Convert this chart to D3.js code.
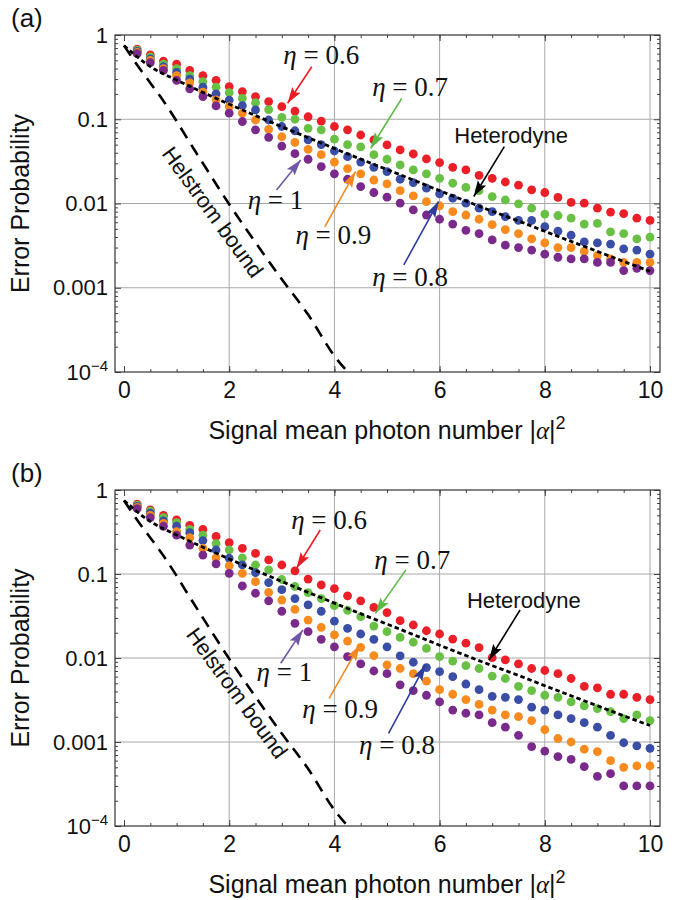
<!DOCTYPE html>
<html lang="en">
<head>
<meta charset="utf-8">
<script src="https://cdn.jsdelivr.net/npm/d3@7/dist/d3.min.js"></script>
<style>
  body { margin: 0; background: #fff; }
  svg text { font-family: Arial, "Liberation Sans", sans-serif; fill: #111; }
  .math { font-family: "Liberation Serif", "DejaVu Serif", serif; }
  .grid line { stroke: #a8a8a8; stroke-width: 1; }
  .tick line { stroke: #444; }
</style>
</head>
<body>
<svg id="chart" width="685" height="900"></svg>
<script>
// mean photon number of every simulated point
var photonN = [0.25, 0.5, 0.75, 1, 1.25, 1.5, 1.75, 2, 2.25, 2.5, 2.75, 3, 3.25, 3.5, 3.75, 4,
  4.25, 4.5, 4.75, 5, 5.25, 5.5, 5.75, 6, 6.25, 6.5, 6.75, 7, 7.25, 7.5, 7.75, 8, 8.25, 8.5,
  8.75, 9, 9.25, 9.5, 9.75, 10];
var etaNames = ["0.6", "0.7", "0.8", "0.9", "1"];

// panel (a)
var eta06a = [.68, .58, .49, .45, .38, .33, .29, .244, .213, .186, .162, .141, .125, .107, .095, .082, .075, .065, .057, .0496,
  .0432, .0387, .0338, .0306, .0269, .0250, .0216, .0199, .0180, .0165, .0145, .0135, .0118, .0103, .0101, .0088, .0079, .0076, .0067, .0063];
var eta07a = [.66, .55, .45, .40, .33, .28, .24, .207, .177, .157, .13, .105, .10, .078, .075, .058, .050, .047, .038, .0335,
  .0287, .0250, .0225, .0199, .0174, .0155, .0142, .0121, .0110, .0099, .0088, .0075, .0072, .0067, .0057, .0058, .0046, .0044, .0038, .0040];
var eta08a = [.64, .52, .42, .36, .30, .24, .20, .169, .145, .129, .098, .082, .073, .057, .050, .042, .036, .031, .0269, .0239,
  .0194, .0177, .0152, .0130, .0116, .0101, .0088, .0080, .0070, .0063, .0063, .0053, .0047, .0042, .0035, .0034, .0033, .0029, .0028, .0025];
var eta09a = [.62, .50, .40, .33, .27, .21, .17, .141, .118, .098, .076, .062, .053, .044, .038, .031, .026, .0225, .019, .0171,
  .0142, .0123, .0105, .0094, .0080, .0073, .0065, .0056, .0049, .0044, .0038, .0034, .0030, .0030, .0027, .0024, .0022, .0020, .0020, .0020];
var eta10a = [.60, .47, .38, .29, .23, .186, .144, .118, .094, .075, .061, .048, .039, .0335, .0274, .0225, .0194, .0159, .0135, .0119,
  .0101, .0084, .0073, .0065, .0057, .0048, .0044, .0037, .0032, .0030, .0028, .0025, .0023, .0022, .0022, .0020, .0020, .0016, .0017, .0016];

// panel (b)
var eta06b = [.68, .58, .50, .44, .38, .34, .28, .236, .202, .176, .147, .128, .109, .087, .074, .067, .055, .048, .040, .0347,
  .0278, .0247, .0211, .0193, .0168, .0150, .0133, .0101, .0095, .0085, .0075, .0071, .0065, .0057, .0046, .0044, .0037, .0037, .0034, .0032];
var eta07b = [.66, .56, .47, .41, .34, .29, .23, .193, .156, .128, .112, .086, .071, .060, .051, .042, .037, .031, .024, .0206,
  .0176, .0154, .0130, .0104, .0092, .0081, .0075, .0061, .0057, .0046, .0041, .0036, .0034, .0030, .0027, .0025, .0023, .0019, .0021, .0018];
var eta08b = [.64, .53, .43, .37, .31, .25, .193, .154, .128, .104, .079, .065, .051, .043, .036, .0275, .0225, .0193, .0167, .0136,
  .0106, .0089, .0077, .0069, .0060, .0049, .0042, .0035, .0034, .0032, .0026, .0024, .0021, .0019, .0017, .0015, .0012, .00098, .00090, .00084];
var eta09b = [.62, .50, .40, .32, .27, .202, .156, .125, .102, .081, .0605, .049, .038, .0283, .0232, .0188, .0159, .0134, .0107, .0083,
  .0075, .0065, .0053, .0042, .0037, .0032, .0028, .0024, .0021, .0020, .0018, .0014, .0011, .0010, .00082, .00077, .00060, .00050, .00052, .00052];
var eta10b = [.60, .47, .37, .29, .221, .168, .132, .102, .072, .059, .048, .036, .0259, .0206, .0167, .0136, .0104, .0085, .0070, .0065,
  .0048, .0041, .0036, .0030, .0024, .0022, .0021, .0017, .0015, .0012, .00088, .00078, .00067, .00062, .00051, .00039, .00042, .00030, .00030, .00030];

// bounds shared by both panels
var helstromN = [0, 0.25, 0.5, 0.75, 1, 1.25, 1.5, 2, 2.5, 3, 3.5, 4, 4.5];
var helstromP = [.75, .44, .27, .165, .095, .053, .0300, .0098, .00345, .00126, .00048, .000155, .00007];
var heteroN = [0, 0.5, 1, 1.5, 2, 2.5, 3, 3.5, 4, 4.5, 5, 5.5, 6, 6.5, 7, 7.5, 8, 8.5, 9, 9.5, 10];
var heteroP = [.75, .422, .292, .2085, .151, .1106, .0815, .0605, .045, .0336, .0253, .019, .0142, .0107, .0081, .0062,
  .00468, .00355, .0027, .00205, .00157];

var xMajor = [0, 2, 4, 6, 8, 10];
var yMajor = [1e-4, 1e-3, 1e-2, 1e-1, 1];
var yTickText = ["10", "0.001", "0.01", "0.1", "1"];

var dotColors = ["#ea1f27", "#68c045", "#3a4ea6", "#f78b1e", "#7a2a8a"];
var arrowColors = {"0.6": "#ec1c24", "0.7": "#5cbb45", "0.8": "#2e3d9b", "0.9": "#f5871f", "1": "#6f56a6", "het": "#000"};

// annotation placement in data units: text centre, arrow tail, arrow tip
var notesA = [
  {k: "0.6", tx: 3.75, ty: .58, x1: 3.57, y1: .42, x2: 3.11, y2: .155},
  {k: "0.7", tx: 5.44, ty: .244, x1: 5.28, y1: .177, x2: 4.69, y2: .0453},
  {k: "het", tx: 7.36, ty: .065, x1: 7.23, y1: .0473, x2: 6.65, y2: .0121},
  {k: "0.8", tx: 5.44, ty: .00136, x1: 5.32, y1: .00187, x2: 5.98, y2: .01054},
  {k: "0.9", tx: 3.98, ty: .00424, x1: 3.82, y1: .00532, x2: 4.40, y2: .0239},
  {k: "1", tx: 2.88, ty: .011, x1: 2.90, y1: .0145, x2: 3.36, y2: .0329}
];
var notesB = [
  {k: "0.6", tx: 3.90, ty: .44, x1: 3.73, y1: .334, x2: 3.28, y2: .117},
  {k: "0.7", tx: 5.48, ty: .147, x1: 5.36, y1: .112, x2: 4.78, y2: .034},
  {k: "het", tx: 7.60, ty: .049, x1: 7.53, y1: .0373, x2: 6.94, y2: .00946},
  {k: "1", tx: 3.05, ty: .00687, x1: 2.98, y1: .00865, x2: 3.40, y2: .0216},
  {k: "0.9", tx: 4.11, ty: .00252, x1: 3.90, y1: .00331, x2: 4.48, y2: .0143},
  {k: "0.8", tx: 5.19, ty: .00092, x1: 5.03, y1: .00127, x2: 5.73, y2: .00826}
];

var svg = d3.select("#chart");
var defs = svg.append("defs");
Object.keys(arrowColors).forEach(function(k) {
  defs.append("marker").attr("id", "head" + k.replace(".", ""))
    .attr("markerUnits", "userSpaceOnUse")
    .attr("markerWidth", 17).attr("markerHeight", 11)
    .attr("refX", 16).attr("refY", 5.5).attr("orient", "auto")
    .append("path").attr("d", "M0,0.5 L16,5.5 L0,10.5 L3,5.5 Z").attr("fill", arrowColors[k]);
});

var left = 115, right = 660;
var x = d3.scaleLinear().domain([0, 10]).range([124, 650]);

function drawPanel(cfg) {
  var y = d3.scaleLog().domain([1e-4, 1]).range([cfg.bottom, cfg.top]);
  var g = svg.append("g");
  var clipId = "clip" + cfg.tag.replace(/\W/g, "");
  defs.append("clipPath").attr("id", clipId).append("rect")
    .attr("x", left).attr("y", cfg.top).attr("width", right - left).attr("height", cfg.bottom - cfg.top);

  // grid
  var grid = g.append("g").attr("class", "grid");
  grid.selectAll("line.v").data([2, 4, 6, 8, 10]).enter().append("line")
    .attr("x1", function(d) { return x(d); }).attr("x2", function(d) { return x(d); })
    .attr("y1", cfg.top).attr("y2", cfg.bottom);
  grid.selectAll("line.h").data([1e-1, 1e-2, 1e-3]).enter().append("line")
    .attr("x1", left).attr("x2", right)
    .attr("y1", function(d) { return y(d); }).attr("y2", function(d) { return y(d); });

  // frame ticks (inward, like the original)
  var minorX = d3.range(0, 10.01, 0.5);
  var minorY = y.ticks().filter(function(d) { return yMajor.indexOf(d) < 0; });
  function tickSet(axisFn, scale, transform, vals, size, labels) {
    var a = axisFn(scale).tickValues(vals).tickSize(-size);
    if (!labels) a.tickFormat("");
    var sel = g.append("g").attr("transform", transform).call(a);
    sel.select(".domain").remove();
    return sel;
  }
  var xb = tickSet(d3.axisBottom, x, "translate(0," + cfg.bottom + ")", xMajor, 6, true);
  xb.selectAll(".tick text").attr("font-size", 23).attr("y", 10).attr("dy", "0.71em");
  tickSet(d3.axisBottom, x, "translate(0," + cfg.bottom + ")", minorX, 3, false);
  tickSet(d3.axisTop, x, "translate(0," + cfg.top + ")", xMajor, 6, false);
  tickSet(d3.axisTop, x, "translate(0," + cfg.top + ")", minorX, 3, false);

  var yl = g.append("g").attr("transform", "translate(" + left + ",0)")
    .call(d3.axisLeft(y).tickValues(yMajor).tickSize(-6).tickPadding(7)
      .tickFormat(function(d, i) { return yTickText[i]; }));
  yl.select(".domain").remove();
  yl.selectAll("text").attr("font-size", 22);
  yl.selectAll(".tick").filter(function(d) { return d === 1e-4; }).select("text")
    .append("tspan").attr("dy", "-0.6em").attr("font-size", 15).text("\u22124");
  tickSet(d3.axisLeft, y, "translate(" + left + ",0)", minorY, 3, false);
  tickSet(d3.axisRight, y, "translate(" + right + ",0)", yMajor, 6, false);
  tickSet(d3.axisRight, y, "translate(" + right + ",0)", minorY, 3, false);

  g.append("rect").attr("x", left).attr("y", cfg.top)
    .attr("width", right - left).attr("height", cfg.bottom - cfg.top)
    .attr("fill", "none").attr("stroke", "#333").attr("stroke-width", 1.2);

  // dots
  var plot = g.append("g").attr("clip-path", "url(#" + clipId + ")");
  cfg.series.forEach(function(vals, si) {
    plot.append("g").selectAll("circle").data(vals).enter().append("circle")
      .attr("cx", function(d, i) { return x(photonN[i]); })
      .attr("cy", function(d) { return y(d); })
      .attr("r", 4.4).attr("fill", dotColors[si]);
  });

  var line = d3.line().curve(d3.curveMonotoneX)
    .x(function(d) { return x(d[0]); }).y(function(d) { return y(d[1]); });
  plot.append("path").datum(helstromN.map(function(n, i) { return [n, helstromP[i]]; }))
    .attr("d", line).attr("fill", "none").attr("stroke", "#000")
    .attr("stroke-width", 2.6).attr("stroke-dasharray", "12,8");
  plot.append("path").datum(heteroN.map(function(n, i) { return [n, heteroP[i]]; }))
    .attr("d", line).attr("fill", "none").attr("stroke", "#000")
    .attr("stroke-width", 2.8).attr("stroke-dasharray", "4.5,3");

  // Helstrom label along the dashed line
  g.append("text")
    .attr("transform", "translate(" + x(cfg.helX) + "," + y(cfg.helY) + ") rotate(54)")
    .attr("text-anchor", "middle").attr("dy", "0.35em").attr("font-size", 22)
    .text("Helstrom bound");

  // annotations
  cfg.notes.forEach(function(n) {
    g.append("line")
      .attr("x1", x(n.x1)).attr("y1", y(n.y1)).attr("x2", x(n.x2)).attr("y2", y(n.y2))
      .attr("stroke", arrowColors[n.k]).attr("stroke-width", 1.6)
      .attr("marker-end", "url(#head" + n.k.replace(".", "") + ")");
    var t = g.append("text").attr("x", x(n.tx)).attr("y", y(n.ty))
      .attr("text-anchor", "middle").attr("dy", "0.35em");
    if (n.k === "het") {
      t.attr("font-size", 22).text("Heterodyne");
    } else {
      t.attr("class", "math").attr("font-size", 27);
      t.append("tspan").attr("font-style", "italic").text("\u03b7");
      t.append("tspan").text(" = " + n.k);
    }
  });

  // titles
  g.append("text").attr("x", 11).attr("y", cfg.top - 8).attr("font-size", 26).text(cfg.tag);
  g.append("text")
    .attr("transform", "translate(29," + ((cfg.top + cfg.bottom) / 2) + ") rotate(-90)")
    .attr("text-anchor", "middle").attr("font-size", 25).text("Error Probability");
  var xt = g.append("text").attr("x", (x(0) + x(10)) / 2).attr("y", cfg.bottom + 67)
    .attr("text-anchor", "middle").attr("font-size", 25);
  xt.append("tspan").text("Signal mean photon number |");
  xt.append("tspan").attr("class", "math").attr("font-style", "italic").text("\u03b1");
  xt.append("tspan").text("|");
  xt.append("tspan").attr("dy", "-0.55em").attr("font-size", 18).text("2");
}

drawPanel({tag: "(a)", top: 35, bottom: 372, helX: 1.69, helY: .0079, notes: notesA,
  series: [eta06a, eta07a, eta08a, eta09a, eta10a]});
drawPanel({tag: "(b)", top: 490, bottom: 826, helX: 2.15, helY: .00383, notes: notesB,
  series: [eta06b, eta07b, eta08b, eta09b, eta10b]});
</script>
</body>
</html>
